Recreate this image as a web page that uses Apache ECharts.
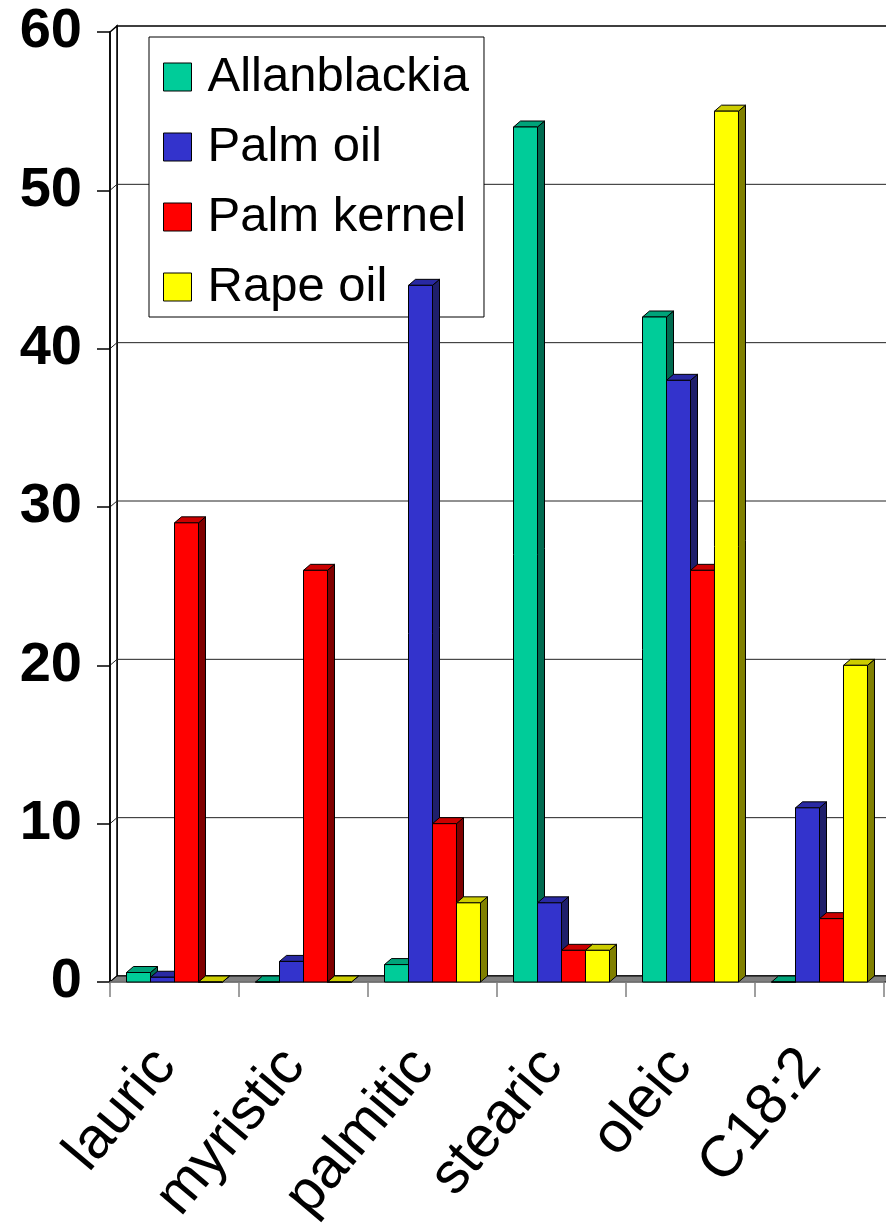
<!DOCTYPE html>
<html>
<head>
<meta charset="utf-8">
<script src="https://cdn.jsdelivr.net/npm/echarts@6/dist/echarts.min.js"></script>
<style>
  html, body { margin: 0; padding: 0; background: #fff; }
  #main { width: 886px; height: 1232px; }
</style>
</head>
<body>
<div id="main"></div>
<script>
// data
var categories = ['lauric', 'myristic', 'palmitic', 'stearic', 'oleic', 'C18:2'];
var seriesNames = ['Allanblackia', 'Palm oil', 'Palm kernel', 'Rape oil'];
var allanblackia = [0.6, 0, 1.1, 54, 42, 0];
var palmOil = [0.3, 1.3, 44, 5, 38, 11];
var palmKernel = [29, 26, 10, 2, 26, 4];
var rapeOil = [0, 0, 5, 2, 55, 20];
var yTicks = [0, 10, 20, 30, 40, 50, 60];

var allValues = [allanblackia, palmOil, palmKernel, rapeOil];
// front / top / side shades
var faceColors = [
  ['#00CC99', '#00A37A', '#006B50'],
  ['#3333CC', '#2929A3', '#1F1F6B'],
  ['#FF0000', '#CC0000', '#800000'],
  ['#FFFF00', '#CCCC00', '#808000']
];
var DX = 7, DY = -6;   // depth of the 3d look

var chart = echarts.init(document.getElementById('main'));

function wallsRender(params, api) {
  var cs = params.coordSys;
  var xl = cs.x, xr = cs.x + cs.width + 10;
  var y0 = api.coord([0, yTicks[0]])[1];
  var yTop = api.coord([0, yTicks[yTicks.length - 1]])[1];
  var kids = [];
  // back wall
  kids.push({ type: 'rect', shape: { x: xl + DX, y: yTop + DY, width: xr - xl, height: y0 - yTop },
    style: { fill: '#fff', stroke: '#000', lineWidth: 1.5 } });
  // left wall
  kids.push({ type: 'polygon', shape: { points: [[xl, y0], [xl, yTop], [xl + DX, yTop + DY], [xl + DX, y0 + DY]] },
    style: { fill: '#fff', stroke: '#000', lineWidth: 1.5 } });
  // gridlines
  for (var i = 1; i < yTicks.length - 1; i++) {
    var y = api.coord([0, yTicks[i]])[1];
    kids.push({ type: 'polyline', shape: { points: [[xl, y], [xl + DX, y + DY], [xr + DX, y + DY]] },
      style: { fill: null, stroke: '#222', lineWidth: 1 } });
  }
  // floor
  kids.push({ type: 'polygon', shape: { points: [[xl, y0], [xr, y0], [xr + DX, y0 + DY], [xl + DX, y0 + DY]] },
    style: { fill: '#808080', stroke: '#000', lineWidth: 1 } });
  return { type: 'group', children: kids };
}

function barRender(sIdx) {
  return function (params, api) {
    var cat = api.value(0), val = api.value(1);
    var base = api.coord([cat, 0]);
    var top = api.coord([cat, val]);
    var w = api.size([1, 0])[0] * 0.186;
    var x0 = base[0] - 2 * w + sIdx * w;
    var x1 = x0 + w;
    var yb = base[1], yt = top[1];
    var c = faceColors[sIdx];
    var st = { stroke: '#000', lineWidth: 1, lineJoin: 'miter' };
    return {
      type: 'group',
      children: [
        { type: 'polygon', shape: { points: [[x1, yt], [x1 + DX, yt + DY], [x1 + DX, yb + DY], [x1, yb]] },
          style: Object.assign({ fill: c[2] }, st) },
        { type: 'polygon', shape: { points: [[x0, yt], [x1, yt], [x1 + DX, yt + DY], [x0 + DX, yt + DY]] },
          style: Object.assign({ fill: c[1] }, st) },
        { type: 'rect', shape: { x: x0, y: yt, width: w, height: yb - yt },
          style: Object.assign({ fill: c[0] }, st) }
      ]
    };
  };
}

var series = [{
  type: 'custom',
  silent: true,
  z: 0,
  data: [[0, 0]],
  renderItem: wallsRender
}];
allValues.forEach(function (vals, s) {
  series.push({
    name: seriesNames[s],
    type: 'custom',
    z: 3,
    itemStyle: { color: faceColors[s][0], borderColor: '#000', borderWidth: 1 },
    data: vals.map(function (v, i) { return [i, v]; }),
    renderItem: barRender(s)
  });
});

var option = {
  animation: false,
  backgroundColor: '#fff',
  textStyle: { fontFamily: 'Liberation Sans, Arial, sans-serif' },
  grid: { left: 110, right: 2, top: 32, bottom: 250 },
  legend: {
    data: seriesNames,
    orient: 'vertical',
    left: 149,
    top: 37,
    padding: [15, 15, 5, 14],
    itemWidth: 28,
    itemHeight: 28,
    itemGap: 20,
    icon: 'rect',
    backgroundColor: '#fff',
    borderColor: '#000',
    borderWidth: 1,
    z: 1,
    itemStyle: { borderColor: '#000', borderWidth: 1 },
    textStyle: { fontSize: 49, lineHeight: 50, color: '#000', padding: [0, 0, 0, 11] }
  },
  xAxis: {
    type: 'category',
    data: categories,
    boundaryGap: true,
    axisLine: { show: true, lineStyle: { color: '#808080', width: 1.5 } },
    axisTick: { show: true, length: 15, lineStyle: { color: '#808080', width: 1.5 } },
    axisLabel: { interval: 0, rotate: 50, fontSize: 58, color: '#000', margin: 64, padding: [0, 14, 0, 0] },
    splitLine: { show: false }
  },
  yAxis: {
    type: 'value',
    min: 0,
    max: 60,
    interval: 10,
    axisLine: { show: true, lineStyle: { color: '#000', width: 1.5 } },
    axisTick: { show: true, length: 13, lineStyle: { color: '#000', width: 1.5 } },
    axisLabel: { fontSize: 56, fontWeight: 'bold', color: '#000', margin: 28 },
    splitLine: { show: false }
  },
  series: series
};
chart.setOption(option);
</script>
</body>
</html>
